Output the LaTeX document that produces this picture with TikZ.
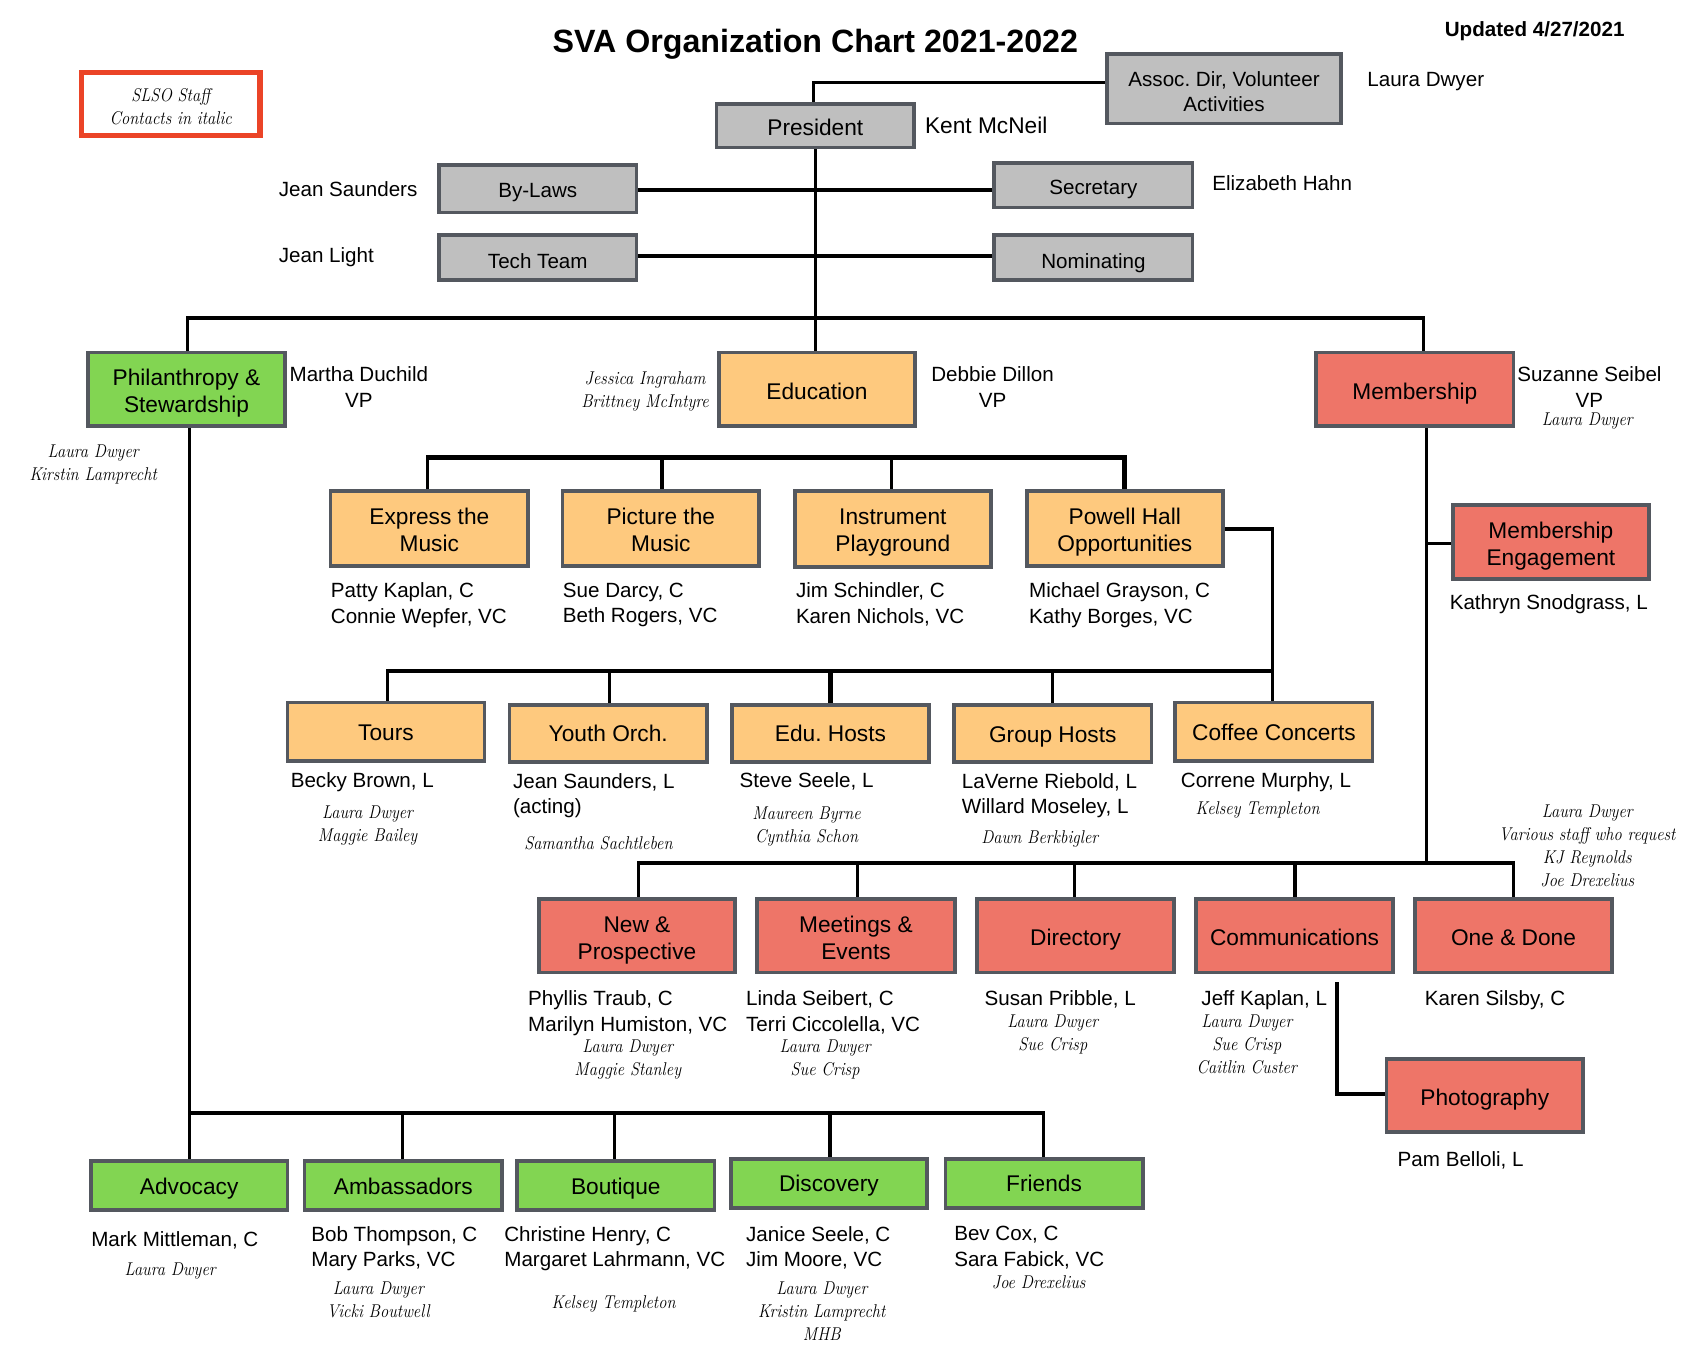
\documentclass[tikz,border=0pt]{standalone}
\usepackage{fontspec}
\setsansfont{Liberation Sans}
\newfontfamily\stafffont{Latin Modern Roman}[FakeStretch=0.89]
\usetikzlibrary{backgrounds}
\definecolor{gbox}{HTML}{BFBFBF}
\definecolor{obox}{HTML}{FEC97E}
\definecolor{lbox}{HTML}{82D552}
\definecolor{rbox}{HTML}{EE7568}
\definecolor{edge}{HTML}{54585F}
\definecolor{legendred}{HTML}{EB4427}
\newcommand{\upr}[1]{\rule{0pt}{#1pt}}
\newcommand{\dnr}[1]{\rule[-#1pt]{0pt}{1pt}}
\tikzset{
  x=1.0842pt,y=-1.0842pt,
  lab/.style={execute at begin node={\rule{0pt}{\dimexpr 22pt+#1pt*2\relax}},execute at end node={\rule[-6pt]{0pt}{1pt}}},
  basebox/.style={draw=edge,line width=3.6pt,inner sep=0pt,outer sep=0pt,align=center,text=black,
    font=\sffamily\fontsize{22.7}{27}\selectfont},
  smalltxt/.style={font=\sffamily\fontsize{20.6}{25.5}\selectfont},
  grey/.style={basebox,fill=gbox},
  orange/.style={basebox,fill=obox},
  lime/.style={basebox,fill=lbox},
  coral/.style={basebox,fill=rbox},
  sz/.style n args={2}{minimum width=#1*1.0842pt,minimum height=#2*1.0842pt},
  namestrut/.style={execute at begin node={\rule{0pt}{20pt}},execute at end node={\rule[-5.3pt]{0pt}{1pt}}},
  staffstrut/.style={execute at begin node={\rule{0pt}{17pt}},execute at end node={\rule[-4.4pt]{0pt}{1pt}}},
  nameL/.style={anchor=west,align=left,inner sep=0pt,namestrut,font=\sffamily\fontsize{20.6}{25.5}\selectfont},
  nameC/.style={anchor=center,align=center,inner sep=0pt,namestrut,font=\sffamily\fontsize{20.6}{25.5}\selectfont},
  nameB/.style={nameL,font=\sffamily\fontsize{22.7}{27}\selectfont},
  staff/.style={anchor=center,align=center,inner sep=0pt,staffstrut,font=\stafffont\itshape\fontsize{18.5}{23}\selectfont},
  conn/.style={draw=black,line width=3.2pt,line cap=butt,line join=miter},
  connB/.style={draw=black,line width=4.4pt,line cap=butt,line join=miter},
}
\begin{document}
\frenchspacing
\begin{tikzpicture}
\useasboundingbox (0,0) rectangle (1568,1256.3);
% title
\node[inner sep=0pt,font=\sffamily\bfseries\fontsize{32.2}{38}\selectfont] (title) at (752,40.5) {SVA Organization Chart 2021-2022};
\node[inner sep=0pt,font=\sffamily\bfseries\fontsize{20.6}{25}\selectfont] (updated) at (1415.5,29) {Updated 4/27/2021};
\node[draw=legendred,line width=5.5pt,fill=white,inner sep=0pt,outer sep=0pt,sz={165}{58},align=center,font=\stafffont\itshape\fontsize{18.5}{23}\selectfont] (legend) at (157.5,96) {\upr{22.4}SLSO Staff\\Contacts in italic\dnr{4.4}};
% boxes
\node[grey,sz={182}{40},lab=2.2] (president) at (752,116) {President};
\node[grey,sz={216}{64},smalltxt] (assoc) at (1129,82) {\upr{26.4}Assoc. Dir, Volunteer\\Activities\dnr{6}};
\node[grey,sz={182}{44},smalltxt,lab=0.5] (bylaws) at (496,174) {By-Laws};
\node[grey,sz={183}{41},smalltxt,lab=1.5] (secretary) at (1008.5,171) {Secretary};
\node[grey,sz={182}{41},smalltxt,lab=3] (tech) at (496,237.5) {Tech Team};
\node[grey,sz={183}{41},smalltxt,lab=3] (nominating) at (1008.5,237.5) {Nominating};
\node[lime,sz={182}{68}] (phil) at (172,359) {\upr{25.2}Philanthropy \&\\Stewardship\dnr{6}};
\node[orange,sz={181}{68},lab=2.2] (education) at (753.5,359) {Education};
\node[coral,sz={182}{68},lab=2.2] (membership) at (1305,359) {Membership};
\node[orange,sz={182}{69}] (express) at (396,487.5) {\upr{24}Express the\\Music\dnr{6}};
\node[orange,sz={181}{69}] (picture) at (609.5,487.5) {\upr{24}Picture the\\Music\dnr{6}};
\node[orange,sz={181}{70}] (instrument) at (823.5,488) {\upr{23}Instrument\\Playground\dnr{6}};
\node[orange,sz={181}{69}] (powell) at (1037.5,487.5) {\upr{24}Powell Hall\\Opportunities\dnr{6}};
\node[orange,sz={182}{54},lab=1] (tours) at (356,675) {Tours};
\node[orange,sz={182}{53},lab=.5] (youth) at (561,676.5) {Youth Orch.};
\node[orange,sz={182}{53},lab=.5] (edu) at (766,676.5) {Edu. Hosts};
\node[orange,sz={182}{53},lab=1.5] (group) at (971,676.5) {Group Hosts};
\node[orange,sz={182}{54},lab=1] (coffee) at (1175,675) {Coffee Concerts};
\node[coral,sz={181}{68}] (engage) at (1430.5,500) {\upr{26}Membership\\Engagement\dnr{6}};
\node[coral,sz={181}{68}] (newp) at (587.5,863) {\upr{27}New \&\\Prospective\dnr{6}};
\node[coral,sz={183}{68}] (meetings) at (789.5,863) {\upr{27}Meetings \&\\Events\dnr{6}};
\node[coral,sz={182}{68},lab=2] (directory) at (992,863) {Directory};
\node[coral,sz={182}{68},lab=2] (comm) at (1194,863) {Communications};
\node[coral,sz={182}{68},lab=2] (onedone) at (1396,863) {One \& Done};
\node[coral,sz={181}{67},lab=1.5] (photo) at (1369.5,1010.5) {Photography};
\node[lime,sz={181}{45},lab=.5] (advocacy) at (174.5,1093.5) {Advocacy};
\node[lime,sz={182}{45},lab=.5] (ambass) at (372,1093.5) {Ambassadors};
\node[lime,sz={182}{45},lab=.5] (boutique) at (568,1093.5) {Boutique};
\node[lime,sz={181}{45},lab=.5] (discovery) at (764.5,1091.5) {Discovery};
\node[lime,sz={182}{45},lab=.5] (friends) at (963,1091.5) {Friends};
% connectors
\begin{scope}[on background layer]
\fill[white] (0,0) rectangle (1568,1256.3);
\coordinate (jAssoc) at (750.5,76);
\draw[conn] (president.north -| jAssoc) -- (jAssoc) -- (assoc.west |- jAssoc);
\coordinate (jSpine) at (752,293);
\draw[conn] (president.south) -- (education.north -| jSpine);
\coordinate (jBy) at (752,175);
\draw[connB] (bylaws.east |- jBy) -- (secretary.west |- jBy);
\coordinate (jTech) at (752,236);
\draw[connB] (tech.east |- jTech) -- (nominating.west |- jTech);
\coordinate (jPhilTop) at (173,293);
\coordinate (jMemTop) at (1313,293);
\draw[conn,line width=3.8pt] (phil.north -| jPhilTop) -- (jPhilTop) -- (jMemTop) -- (membership.north -| jMemTop);
% education subtree
\coordinate (e1) at (394,422);\coordinate (e2) at (610.5,422);\coordinate (e3) at (822.5,422);\coordinate (e4) at (1037,422);
\draw[connB] (e1) -- (e4);
\draw[conn] (e1) ++(0,-2) -- (express.north -| e1);
\draw[connB] (e2) -- (picture.north -| e2);
\draw[conn] (e3) -- (instrument.north -| e3);
\draw[connB] (e4) ++(0,-2) -- (powell.north -| e4);
% powell subtree
\coordinate (p0) at (1174,488);\coordinate (p5) at (1174,619);
\coordinate (p1) at (357.5,619);\coordinate (p2) at (562,619);\coordinate (p3) at (766,619);\coordinate (p4) at (971,619);
\draw[conn] (powell.east |- p0) -- (p0) -- (coffee.north -| p0);
\draw[connB] (p1) -- (p5);
\draw[conn] (p1) ++(0,-2) -- (tours.north -| p1);
\draw[conn] (p2) -- (youth.north -| p2);
\draw[connB] (p3) -- (edu.north -| p3);
\draw[conn] (p4) -- (group.north -| p4);
% membership subtree
\coordinate (mS) at (1315.5,796);\coordinate (mE) at (1315.5,501);
\draw[conn] (membership.south -| mS) -- (mS);
\draw[conn] (mE) -- (engage.west |- mE);
\coordinate (m1) at (589,796);\coordinate (m2) at (791,796);\coordinate (m3) at (991,796);\coordinate (m4) at (1194.5,796);\coordinate (m5) at (1396,796);
\draw[connB] (m1) -- (m5);
\draw[conn] (m1) ++(0,-2) -- (newp.north -| m1);
\draw[conn] (m2) -- (meetings.north -| m2);
\draw[conn] (m3) -- (directory.north -| m3);
\draw[conn] (m4) -- (comm.north -| m4);
\draw[conn] (m5) ++(0,-2) -- (onedone.north -| m5);
% communications - photography
\coordinate (cFree) at (1233.5,906);\coordinate (cBend) at (1233.5,1009);
\draw[conn,line width=4pt] (cFree) -- (cBend) -- (photo.west |- cBend);
% philanthropy subtree
\coordinate (g0) at (175,1026.5);\coordinate (g2) at (371.5,1026.5);\coordinate (g3) at (566.5,1026.5);\coordinate (g4) at (765.5,1026.5);\coordinate (g5) at (962.5,1026.5);
\draw[conn] (phil.south -| g0) -- (advocacy.north -| g0);
\draw[conn] (g0) -- (g5);
\draw[conn] (g2) -- (ambass.north -| g2);
\draw[conn] (g3) -- (boutique.north -| g3);
\draw[connB] (g4) -- (discovery.north -| g4);
\draw[conn] (g5) ++(0,-1.5) -- (friends.north -| g5);
\end{scope}
% names
\node[nameL] (t01) at (1261,73) {Laura Dwyer};
\node[nameB] (t02) at (853,116) {Kent McNeil};
\node[nameL] (t03) at (257,174) {Jean Saunders};
\node[nameL] (t04) at (1118,169) {Elizabeth Hahn};
\node[nameL] (t05) at (257,235) {Jean Light};
\node[nameC] (t06) at (331,359.5) {Martha Duchild\\VP};
\node[nameC] (t07) at (915.5,359.5) {Debbie Dillon\\VP};
\node[nameC] (t08) at (1466,359.5) {Suzanne Seibel\\VP};
\node[nameL] (t09) at (305,558.5) {Patty Kaplan, C\\Connie Wepfer, VC};
\node[nameL] (t10) at (519,558.5) {Sue Darcy, C\\Beth Rogers, VC};
\node[nameL] (t11) at (734,558.5) {Jim Schindler, C\\Karen Nichols, VC};
\node[nameL] (t12) at (949,558.5) {Michael Grayson, C\\Kathy Borges, VC};
\node[nameL] (t13) at (1337,555) {Kathryn Snodgrass, L};
\node[nameL] (t14) at (268,720) {Becky Brown, L};
\node[nameL] (t15) at (473,734.5) {Jean Saunders, L\\(acting)};
\node[nameL] (t16) at (682,720) {Steve Seele, L};
\node[nameL] (t17) at (887,734.5) {LaVerne Riebold, L\\Willard Moseley, L};
\node[nameL] (t18) at (1089,720) {Correne Murphy, L};
\node[nameL] (t19) at (487,935) {Phyllis Traub, C\\Marilyn Humiston, VC};
\node[nameL] (t20) at (688,935) {Linda Seibert, C\\Terri Ciccolella, VC};
\node[nameL] (t21) at (908,921) {Susan Pribble, L};
\node[nameL] (t22) at (1108,921) {Jeff Kaplan, L};
\node[nameL] (t23) at (1314,921) {Karen Silsby, C};
\node[nameL] (t24) at (1289,1069) {Pam Belloli, L};
\node[nameL] (t25) at (84,1143) {Mark Mittleman, C};
\node[nameL] (t26) at (287,1152) {Bob Thompson, C\\Mary Parks, VC};
\node[nameL] (t27) at (465,1152) {Christine Henry, C\\Margaret Lahrmann, VC};
\node[nameL] (t28) at (688,1152) {Janice Seele, C\\Jim Moore, VC};
\node[nameL] (t29) at (880,1152) {Bev Cox, C\\Sara Fabick, VC};
% staff contacts
\node[staff] (s01) at (595,361.5) {Jessica Ingraham\\Brittney McIntyre};
\node[staff] (s02) at (1464,387) {Laura Dwyer};
\node[staff] (s03) at (86,428.5) {Laura Dwyer\\Kirstin Lamprecht};
\node[staff] (s04) at (339,761.5) {Laura Dwyer\\Maggie Bailey};
\node[staff] (s05) at (552,778) {Samantha Sachtleben};
\node[staff] (s06) at (744,762.5) {Maureen Byrne\\Cynthia Schon};
\node[staff] (s07) at (959,772) {Dawn Berkbigler};
\node[staff] (s08) at (1160,745) {Kelsey Templeton};
\node[staff] (s09) at (1464,782) {Laura Dwyer\\Various staff who request\\KJ Reynolds\\Joe Drexelius};
\node[staff] (s10) at (579,977.5) {Laura Dwyer\\Maggie Stanley};
\node[staff] (s11) at (761,977.5) {Laura Dwyer\\Sue Crisp};
\node[staff] (s12) at (971,954.5) {Laura Dwyer\\Sue Crisp};
\node[staff] (s13) at (1150,965) {Laura Dwyer\\Sue Crisp\\Caitlin Custer};
\node[staff] (s14) at (157,1171) {Laura Dwyer};
\node[staff] (s15) at (349,1200.5) {Laura Dwyer\\Vicki Boutwell};
\node[staff] (s16) at (566,1201) {Kelsey Templeton};
\node[staff] (s17) at (758,1211) {Laura Dwyer\\Kristin Lamprecht\\MHB};
\node[staff] (s18) at (958,1183) {Joe Drexelius};
\end{tikzpicture}
\end{document}
